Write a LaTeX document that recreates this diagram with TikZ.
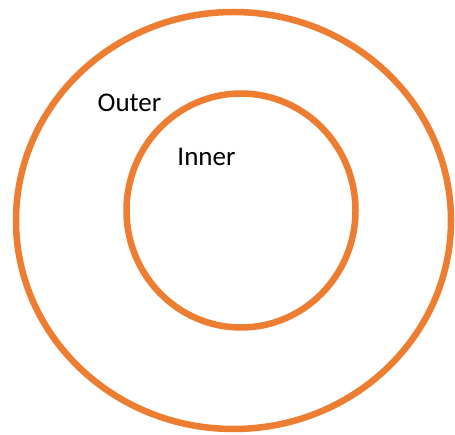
\documentclass[tikz,border=0pt]{standalone}
\usepackage{fontspec}
\setmainfont{Carlito}
\usetikzlibrary{shapes.geometric}
\definecolor{ring}{HTML}{ED7D31}
\tikzset{
  ringshape/.style={ellipse, draw=ring, line width=6.5pt, inner sep=0pt},
  lbl/.style={font=\fontsize{27}{32}\selectfont, text=black, inner sep=0pt}
}
\begin{document}
\begin{tikzpicture}[x=1pt,y=-1pt]
\useasboundingbox (0,0) rectangle (455,435);
\node[ringshape, minimum width=435pt, minimum height=417pt] (outer) at (233.5,220.5) {};
\node[ringshape, minimum width=229pt, minimum height=234pt] (inner) at (241,210.5) {};
\node[lbl] (outerlbl) at (129.5,102.5) {Outer};
\node[lbl] (innerlbl) at (206.5,156.5) {Inner};
\end{tikzpicture}
\end{document}
